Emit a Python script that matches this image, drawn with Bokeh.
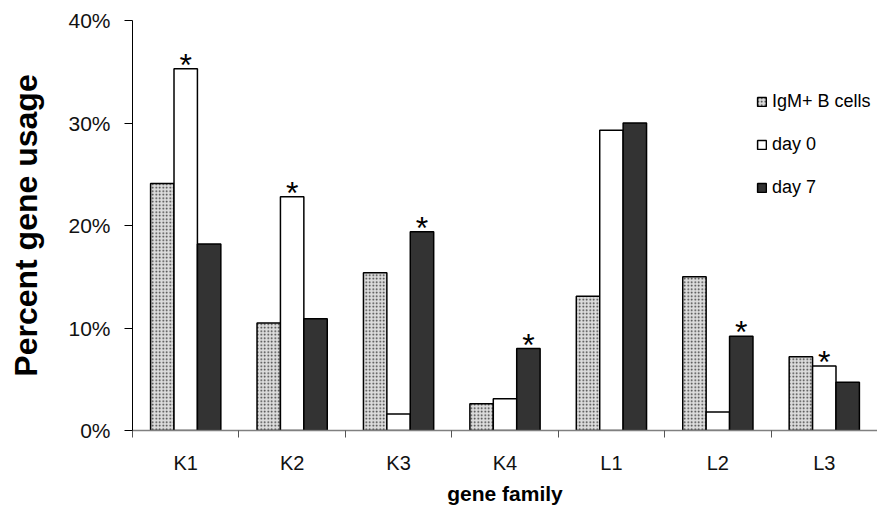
from bokeh.plotting import figure
from bokeh.models import (ColumnDataSource, FixedTicker, PrintfTickFormatter,
                          Legend, LegendItem, Range1d)
from bokeh.core.properties import value
from bokeh.embed import file_html
from bokeh.resources import INLINE

# Gene families on the x axis
families = ["K1", "K2", "K3", "K4", "L1", "L2", "L3"]

# Percent gene usage per family
igm_b_cells = [24.1, 10.5, 15.4, 2.6, 13.1, 15.0, 7.2]
day0 = [35.3, 22.8, 1.6, 3.1, 29.3, 1.8, 6.3]
day7 = [18.2, 10.9, 19.4, 8.0, 30.0, 9.2, 4.7]

# Significance markers (True = asterisk above that bar)
star_day0 = [True, True, False, False, False, False, True]
star_day7 = [False, False, True, True, False, True, False]

y_ticks = [0, 10, 20, 30, 40]

FONT = "Liberation Sans"
n = len(families)
centers = [i + 0.5 for i in range(n)]
bar_w = 0.22

p = figure(width=877, height=514, output_backend="svg", toolbar_location=None,
           x_range=Range1d(0, n), y_range=Range1d(0, 40),
           min_border_left=132, min_border_right=0, min_border_top=20,
           min_border_bottom=84, background_fill_color="white",
           border_fill_color="white")
p.outline_line_color = None
p.xgrid.visible = False
p.ygrid.visible = False

src_a = ColumnDataSource(dict(x=[c - bar_w for c in centers], top=igm_b_cells))
src_b = ColumnDataSource(dict(x=centers, top=day0))
src_c = ColumnDataSource(dict(x=[c + bar_w for c in centers], top=day7))

r_a = p.vbar(x="x", top="top", width=bar_w, source=src_a, fill_color="#dcdcdc",
             hatch_pattern="dot", hatch_color="#333333", hatch_scale=3.5,
             hatch_weight=1.5, line_color="black", line_width=1.5)
r_b = p.vbar(x="x", top="top", width=bar_w, source=src_b, fill_color="white",
             line_color="black", line_width=1.5)
r_c = p.vbar(x="x", top="top", width=bar_w, source=src_c, fill_color="#333333",
             line_color="black", line_width=1.5)

# asterisks over significant bars
sx, sy = [], []
for i in range(n):
    if star_day0[i]:
        sx.append(centers[i]); sy.append(day0[i])
    if star_day7[i]:
        sx.append(centers[i] + bar_w); sy.append(day7[i])
p.text(x=sx, y=sy, text=["*"] * len(sx), text_align="center",
       text_baseline="alphabetic", y_offset=-4, text_font=value(FONT),
       text_font_size="32px", text_color="black")

# y axis
p.yaxis.ticker = FixedTicker(ticks=y_ticks, minor_ticks=[])
p.yaxis.formatter = PrintfTickFormatter(format="%d%%")
p.yaxis.major_tick_out = 8
p.yaxis.major_tick_in = 0
p.yaxis.major_tick_line_color = "black"
p.yaxis.axis_line_color = "black"
p.yaxis.major_label_standoff = 14
p.yaxis.major_label_text_font = FONT
p.yaxis.major_label_text_font_size = "21px"
p.yaxis.major_label_text_color = "#111111"
p.yaxis.axis_label = "Percent gene usage"
p.yaxis.axis_label_text_font = FONT
p.yaxis.axis_label_text_font_style = "bold"
p.yaxis.axis_label_text_font_size = "32px"
p.yaxis.axis_label_text_color = "black"
p.yaxis.axis_label_standoff = 21

# x axis: labels at family centers, ticks at family boundaries
p.xaxis.ticker = FixedTicker(ticks=centers, minor_ticks=list(range(n + 1)))
p.xaxis.major_label_overrides = {c: f for c, f in zip(centers, families)}
p.xaxis.major_tick_line_color = None
p.xaxis.major_tick_out = 0
p.xaxis.major_tick_in = 0
p.xaxis.minor_tick_out = 7
p.xaxis.minor_tick_in = 0
p.xaxis.minor_tick_line_color = "#555555"
p.xaxis.axis_line_color = "#808080"
p.xaxis.axis_line_width = 1.5
p.xaxis.major_label_standoff = 14
p.xaxis.major_label_text_font = FONT
p.xaxis.major_label_text_font_size = "20px"
p.xaxis.major_label_text_color = "#111111"
p.xaxis.axis_label = "gene family"
p.xaxis.axis_label_text_font = FONT
p.xaxis.axis_label_text_font_style = "bold"
p.xaxis.axis_label_text_font_size = "21px"
p.xaxis.axis_label_text_color = "black"
p.xaxis.axis_label_standoff = 5

legend = Legend(items=[LegendItem(label="IgM+ B cells", renderers=[r_a]),
                       LegendItem(label="day 0", renderers=[r_b]),
                       LegendItem(label="day 7", renderers=[r_c])],
                location=(624, 232), orientation="vertical",
                glyph_width=11, glyph_height=11, label_text_font=FONT,
                label_text_font_size="18px", label_text_color="black",
                label_standoff=5, spacing=22, padding=0, margin=0,
                border_line_color=None, background_fill_alpha=0)
p.add_layout(legend, "center")

open("out.html", "w").write(file_html(p, INLINE))
